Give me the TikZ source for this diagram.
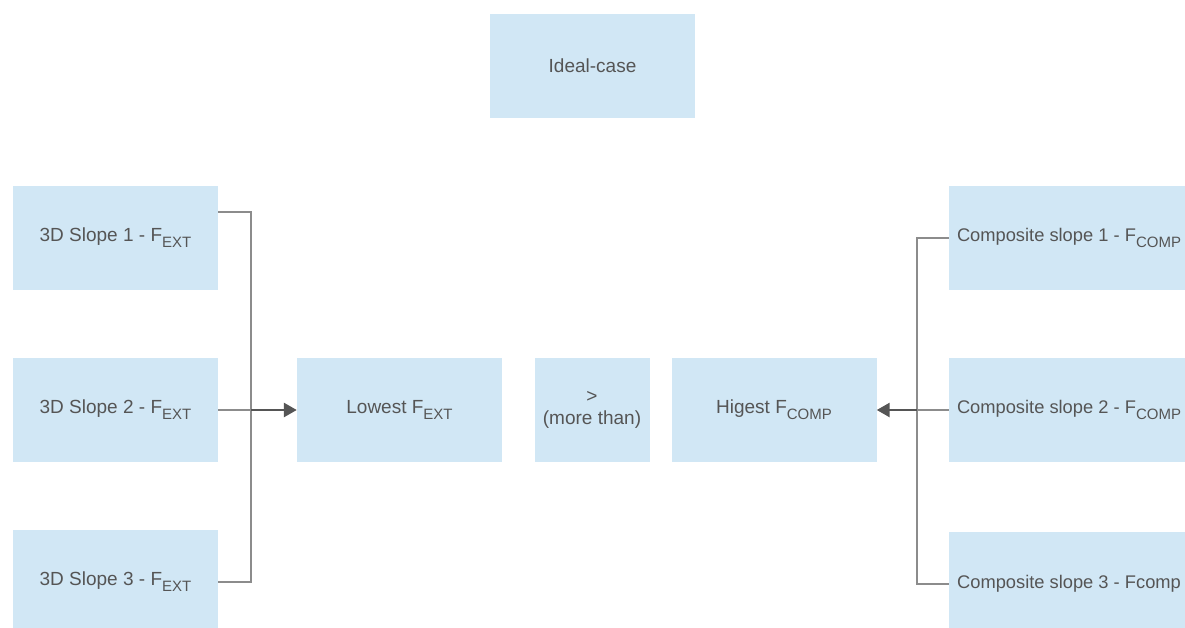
\documentclass[tikz,border=0pt]{standalone}
\usepackage{fontspec}
\setmainfont{Liberation Sans}
\usetikzlibrary{arrows.meta,calc}
\definecolor{boxfill}{HTML}{D1E7F5}
\definecolor{txt}{HTML}{555555}
\definecolor{lineg}{HTML}{8C8C8C}
\definecolor{arrg}{HTML}{555555}
\newcommand\lsub[1]{\raisebox{-6pt}{\fontsize{15}{15}\selectfont #1}}
\tikzset{
  box/.style={fill=boxfill, draw=none, minimum width=205pt, minimum height=104pt, inner sep=0pt,
    text=txt, font=\fontsize{19}{22}\selectfont, align=center},
  rbox/.style={box, minimum width=240pt, font=\fontsize{18.3}{22}\selectfont},
  conn/.style={draw=lineg, line width=1.8pt},
  arr/.style={draw=arrg, line width=2.6pt, -{Triangle[length=13pt,width=14pt]}, shorten >=0pt}
}
\begin{document}
\begin{tikzpicture}[x=1pt,y=-1pt]
\fill[white] (0,0) rectangle (1185,628);
\useasboundingbox (0,0) rectangle (1185,628);
\clip (0,0) rectangle (1185,628);
\node[box] (ideal) at (592.5,66) {Ideal-case};
\node[box] (L1) at (115.5,238) {3D Slope 1 - F\lsub{EXT}};
\node[box] (L2) at (115.5,410) {3D Slope 2 - F\lsub{EXT}};
\node[box] (L3) at (115.5,582) {3D Slope 3 - F\lsub{EXT}};
\node[box] (low) at (399.5,410) {Lowest F\lsub{EXT}};
\node[box, minimum width=115pt] (gt) at (592,410) {>\\(more than)};
\node[box] (high) at (774,410) {Higest F\lsub{COMP}};
\node[rbox] (R1) at (1069,238) {Composite slope 1 - F\lsub{COMP}};
\node[rbox] (R2) at (1069,410) {Composite slope 2 - F\lsub{COMP}};
\node[rbox] (R3) at (1069,584) {Composite slope 3 - Fcomp};
\coordinate (j1) at ($(L1.north east)!0.25!(L1.south east)$);
\coordinate (jl) at (251,410);
\coordinate (jr) at (917,410);
\draw[conn] (j1) -| (jl);
\draw[conn] (L3.east) -| (jl);
\draw[conn] (L2.east) -- (jl);
\draw[conn] (R1.west) -| (jr);
\draw[conn] (R3.west) -| (jr);
\draw[conn] (R2.west) -- (jr);
\draw[arr] (jl) -- (low.west);
\draw[arr] (jr) -- (high.east);
\end{tikzpicture}
\end{document}
